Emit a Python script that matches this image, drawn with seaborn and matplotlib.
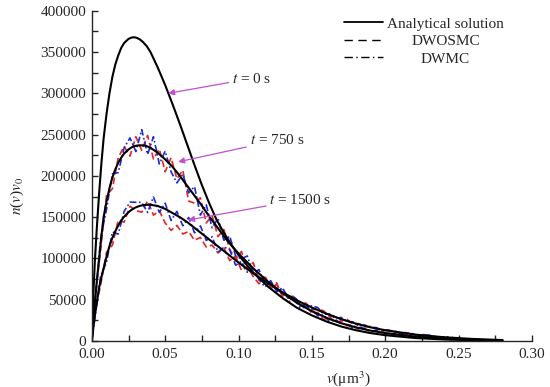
import numpy as np
import pandas as pd
import matplotlib
matplotlib.use("Agg")
import matplotlib.pyplot as plt
from matplotlib.lines import Line2D
import seaborn as sns

# ---------------- data ----------------
v_ana = [0.0, 0.001, 0.002, 0.0035, 0.005, 0.0065, 0.008, 0.010, 0.012, 0.014,
         0.016, 0.018, 0.020, 0.022, 0.025, 0.027, 0.029, 0.031, 0.033, 0.035,
         0.0375, 0.040, 0.045, 0.050, 0.055, 0.060, 0.065, 0.070, 0.075, 0.080,
         0.085, 0.090, 0.095, 0.100, 0.110, 0.120, 0.130, 0.140, 0.150, 0.160,
         0.170, 0.180, 0.190, 0.200, 0.220, 0.240, 0.260, 0.280]
ana_t0 = [0, 55000, 95000, 140000, 180000, 215000, 245000, 275000, 300000, 320000,
          335000, 346000, 355000, 361000, 366000, 367600, 368000, 367000, 365000, 362000,
          357000, 350000, 331000, 310000, 287000, 263000, 238000, 213000, 189000, 167000,
          147000, 131000, 117000, 104000, 83000, 66000, 52000, 40000, 31000, 23500,
          17500, 13000, 9500, 7000, 3600, 1800, 800, 300]
ana_t750 = [0, 25000, 45000, 75000, 100000, 127000, 150000, 169000, 185000, 198000,
            208000, 216000, 222000, 227000, 232000, 234500, 236000, 236800, 237000, 237000,
            236000, 234000, 228000, 220000, 211000, 200000, 188000, 176000, 164000, 151000,
            139000, 127000, 116000, 106000, 88000, 72000, 58000, 46000, 36000, 28000,
            21500, 16500, 12500, 9500, 5300, 2800, 1400, 600]
ana_t1500 = [0, 16000, 30000, 48000, 65000, 77000, 88000, 102000, 115000, 125000,
             133000, 140000, 146000, 150500, 156000, 158800, 161000, 162600, 163800, 164500,
             165000, 165000, 163500, 160000, 155000, 150000, 144000, 137000, 130000, 123000,
             116000, 109000, 102000, 95000, 82000, 70000, 59000, 49000, 40500, 33000,
             26500, 21000, 16500, 13000, 7800, 4500, 2400, 1100]

v_sim = [0.0005, 0.002, 0.006, 0.010, 0.014, 0.018, 0.022, 0.026, 0.030, 0.034, 0.038,
         0.042, 0.046, 0.050, 0.054, 0.058, 0.062, 0.066, 0.070, 0.074, 0.078,
         0.082, 0.086, 0.090, 0.094, 0.098, 0.102, 0.106, 0.110, 0.114, 0.118,
         0.122, 0.126, 0.130, 0.134, 0.138, 0.142, 0.146, 0.150, 0.154, 0.158,
         0.162, 0.166, 0.170, 0.174, 0.178, 0.182, 0.186, 0.190, 0.194, 0.198,
         0.202, 0.206, 0.210, 0.214, 0.218, 0.222, 0.226, 0.230, 0.234, 0.238,
         0.242, 0.246]
dwosmc_t750 = [12000, 48000, 111000, 176500, 184500, 222000, 236000, 224000, 247500, 231000, 249000,
               220500, 232500, 205000, 222000, 196500, 207000, 169500, 167000, 173500, 143000,
               152000, 126500, 135000, 111000, 99000, 108500, 86000, 95000, 73500, 79000,
               63000, 70500, 53000, 47000, 51500, 42000, 44000, 33000, 34500, 25500,
               29500, 22000, 24500, 18500, 19500, 13700, 15000, 10500, 12200, 12000,
               8000, 9200, 6400, 7600, 4800, 6000, 4500, 3000, 4500, 3100,
               1700, 2300]
dwmc_t750 = [10000, 41000, 124700, 159500, 202500, 204000, 234000, 246000, 229500, 256000, 226000,
             247500, 214500, 230000, 205000, 191500, 202000, 179500, 187000, 152500, 165000,
             137000, 148500, 122000, 127000, 103000, 99500, 103000, 82000, 86500, 67000,
             73000, 59500, 64000, 51000, 51500, 40000, 41000, 39000, 30500, 31500,
             23500, 26000, 20500, 20500, 15500, 16700, 15000, 11500, 13200, 9000,
             9000, 9200, 6400, 7600, 5800, 4000, 5500, 4000, 2500, 4100,
             2700, 1300]
dwosmc_t1500 = [8000, 34000, 67700, 107500, 116000, 146500, 144000, 163200, 158000, 156000, 169800,
                152400, 157800, 143000, 134000, 140000, 129600, 132600, 122000, 125400, 113800,
                116200, 106600, 113000, 97400, 102800, 85400, 90200, 78000, 69200, 77400,
                64800, 68400, 55000, 54000, 54000, 45300, 45900, 37500, 38500, 36500,
                29700, 30100, 25500, 26300, 20100, 21100, 17300, 17500, 15100, 12700,
                13500, 11400, 9300, 10200, 8300, 6500, 7800, 6100, 5400, 3800,
                4200, 4700]
dwmc_t1500 = [6000, 27000, 78700, 95500, 132000, 129500, 157000, 168200, 168000, 168000, 155800,
              174400, 155800, 167000, 146000, 157000, 139600, 149600, 131000, 139400, 121800,
              126200, 107600, 114000, 110400, 91800, 96400, 83200, 88000, 74200, 65400,
              71800, 60400, 64000, 52000, 53000, 46300, 40900, 42500, 40500, 32500,
              32700, 27100, 28500, 23300, 23100, 18100, 19300, 16500, 16100, 12700,
              12500, 12400, 9300, 9200, 9300, 6500, 6800, 7100, 4400, 4800,
              5200, 2700]

x_ticks = [0.00, 0.05, 0.10, 0.15, 0.20, 0.25, 0.30]
y_ticks = [0, 50000, 100000, 150000, 200000, 250000, 300000, 350000, 400000]
legend_labels = ["Analytical solution", "DWOSMC", "DWMC"]
annotations = [("$t$ = 0 s", (0.052, 300000), (0.0955, 318000)),
               ("$t$ = 750 s", (0.0588, 217000), (0.1075, 243000)),
               ("$t$ = 1500 s", (0.0656, 146500), (0.121, 171000))]

# ---------------- style ----------------
sns.set_style("ticks")
plt.rcParams["font.family"] = ["Liberation Serif", "DejaVu Serif"]
plt.rcParams["mathtext.fontset"] = "stix"
plt.rcParams["font.size"] = 11

fig = plt.figure(figsize=(5.5, 3.87), dpi=100)
ax = fig.add_axes([0.167, 0.119, 0.800, 0.853])

red = "#e0262a"
blue = "#1f2ad6"
for yv in (dwosmc_t750, dwosmc_t1500):
    sns.lineplot(x=v_sim, y=yv, ax=ax, color=red, linestyle=(0, (4, 2)), lw=1.2,
                 sort=False, estimator=None)
for yv in (dwmc_t750, dwmc_t1500):
    sns.lineplot(x=v_sim, y=yv, ax=ax, color=blue, linestyle=(0, (4, 1.5, 1, 1.5)), lw=1.2,
                 sort=False, estimator=None)
for yv in (ana_t0, ana_t750, ana_t1500):
    sns.lineplot(x=v_ana, y=yv, ax=ax, color="black", lw=1.5, sort=False, estimator=None)

ax.set_xlim(0, 0.30)
ax.set_ylim(0, 400000)
ax.set_xticks(x_ticks)
ax.set_xticklabels([f"{t:.2f}" for t in x_ticks])
ax.set_yticks(y_ticks)
ax.set_yticklabels([str(t) for t in y_ticks])
ax.xaxis.set_minor_locator(matplotlib.ticker.MultipleLocator(0.025))
ax.yaxis.set_minor_locator(matplotlib.ticker.MultipleLocator(25000))
ax.tick_params(which="both", direction="in", length=4, width=1, labelsize=11)
ax.tick_params(axis="x", pad=5)
ax.tick_params(axis="y", pad=4)
for s in ("top", "right"):
    ax.spines[s].set_visible(False)
for s in ("left", "bottom"):
    ax.spines[s].set_linewidth(1.0)

ax.set_xlabel("$v$(μm$^3$)", fontsize=11)
ax.xaxis.set_label_coords(0.584, -0.085)
ax.set_ylabel("$n$($v$)$v_0$", fontsize=11)
ax.yaxis.set_label_coords(-0.15, 0.44)

arrow_col = "#c24fd0"
for txt, tip, tail in annotations:
    ax.annotate(txt, xy=tip, xytext=tail, textcoords="data", fontsize=11,
                va="center", ha="left",
                arrowprops=dict(arrowstyle="-|>", color=arrow_col, lw=0.9,
                                mutation_scale=9, shrinkA=0, shrinkB=0))

handles = [Line2D([], [], color="black", lw=1.3),
           Line2D([], [], color="black", lw=1.0, linestyle=(0, (6, 4))),
           Line2D([], [], color="black", lw=1.0, linestyle=(0, (6, 2.5, 1, 2.5)))]
leg = ax.legend(handles, legend_labels, loc="upper left", bbox_to_anchor=(0.56, 1.0),
                frameon=False, fontsize=11, handlelength=2.5, handletextpad=0.3,
                labelspacing=0.25, borderaxespad=0.0)
fig.canvas.draw()
renderer = fig.canvas.get_renderer()
widths = [t.get_window_extent(renderer).width for t in leg.get_texts()]
mw = max(widths)
for t, w in zip(leg.get_texts(), widths):
    t.set_x((mw - w) / 2)

fig.savefig("out.png", dpi=100)
